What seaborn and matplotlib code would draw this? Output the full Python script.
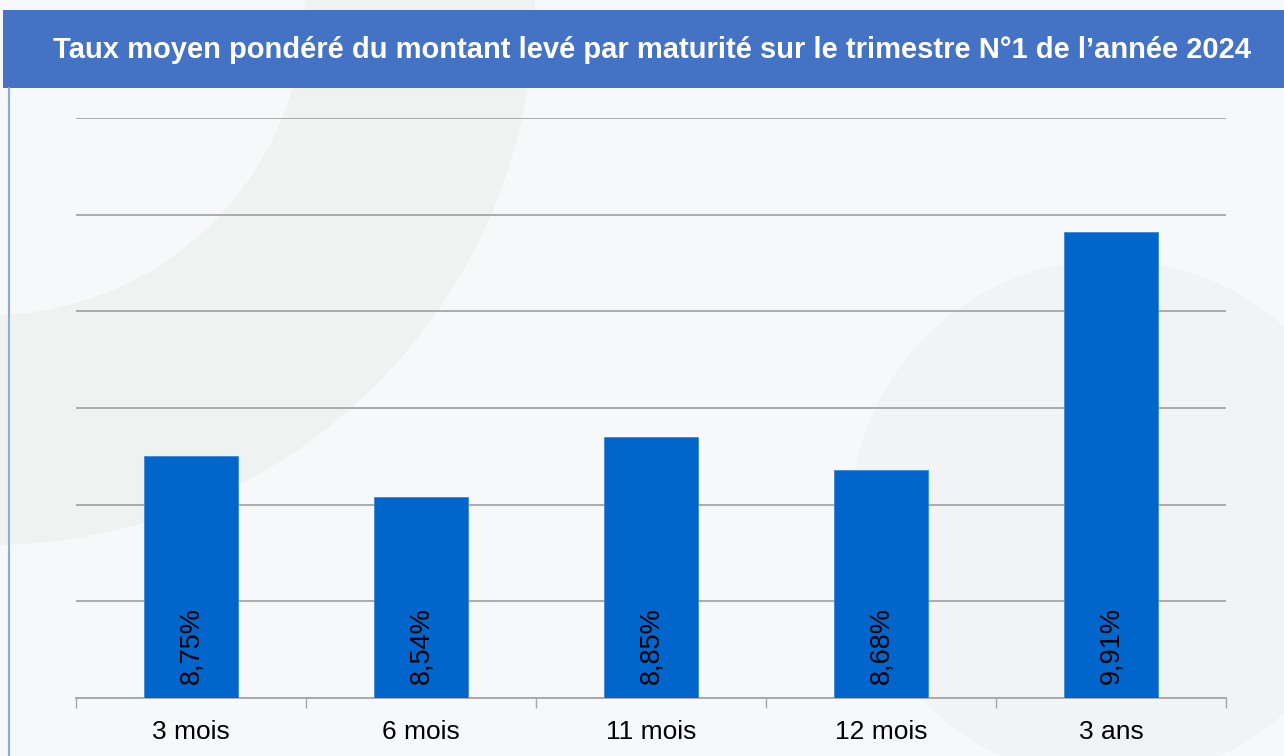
import matplotlib
matplotlib.use("Agg")
import matplotlib.pyplot as plt
from matplotlib.patches import Rectangle, Wedge, Circle
import seaborn as sns
import pandas as pd

# Data
maturites = ["3 mois", "6 mois", "11 mois", "12 mois", "3 ans"]
taux = [8.75, 8.54, 8.85, 8.68, 9.91]
etiquettes = ["8,75%", "8,54%", "8,85%", "8,68%", "9,91%"]
titre = "Taux moyen pondéré du montant levé par maturité sur le trimestre N°1 de l’année 2024"

sns.set_theme(style="white")
plt.rcParams["font.family"] = ["Liberation Sans", "DejaVu Sans"]

W, H = 1284, 756
fig = plt.figure(figsize=(W / 100, H / 100), dpi=100)
fig.patch.set_facecolor("#f6f8f9")

# Background layer in pixel coordinates (origin top-left)
bg = fig.add_axes([0, 0, 1, 1], zorder=0)
bg.set_xlim(0, W)
bg.set_ylim(H, 0)
bg.axis("off")
bg.add_patch(Wedge((-10, 0), 545, 0, 360, width=230, facecolor="#e9efed", alpha=0.6, lw=0))
bg.add_patch(Circle((1110, 520), 260, facecolor="#edf0f3", alpha=0.5, lw=0))
bg.add_patch(Rectangle((3, 10), W - 3, 78, facecolor="#4472c4", lw=0))
bg.plot([8.5, 8.5], [88, H], color="#8eaadb", lw=1.5)
bg.text(652, 50, titre, color="white", fontsize=21, fontweight="bold",
        ha="center", va="center")

# Chart
ax = fig.add_axes([76 / W, 58 / H, 1150 / W, 580 / H], zorder=1)
ax.patch.set_alpha(0)
df = pd.DataFrame({"maturite": maturites, "taux": taux})
sns.barplot(data=df, x="maturite", y="taux", color="#0066cc", saturation=1,
            width=0.405, edgecolor="#3d86d6", linewidth=0.6, ax=ax, zorder=3)

ax.set_ylim(7.5, 10.5)
ax.set_xlim(-0.5, len(maturites) - 0.5)
ax.set_yticks([7.5, 8.0, 8.5, 9.0, 9.5, 10.0, 10.5])
ax.yaxis.grid(True, color="#a6a6a6", lw=1.3)
ax.set_axisbelow(True)
ax.tick_params(axis="y", left=False, labelleft=False)
ax.set_xlabel("")
ax.set_ylabel("")

# Category boundary ticks
ax.set_xticks([i - 0.5 for i in range(len(maturites) + 1)], minor=True)
ax.tick_params(axis="x", which="minor", direction="out", length=7, width=1,
               color="#a6a6a6", bottom=True)
ax.tick_params(axis="x", which="major", length=0, labelsize=19, pad=16,
               labelcolor="black")

for side in ["top", "right", "left"]:
    ax.spines[side].set_visible(False)
ax.spines["bottom"].set_color("#a6a6a6")
ax.spines["bottom"].set_linewidth(1.3)

for i, (v, lab) in enumerate(zip(taux, etiquettes)):
    ax.annotate(lab, (i, 7.5), xytext=(0, 10), textcoords="offset points",
                rotation=90, ha="center", va="bottom", fontsize=19.5,
                color="black", zorder=5)

fig.savefig("out.png", dpi=100, facecolor=fig.get_facecolor())
